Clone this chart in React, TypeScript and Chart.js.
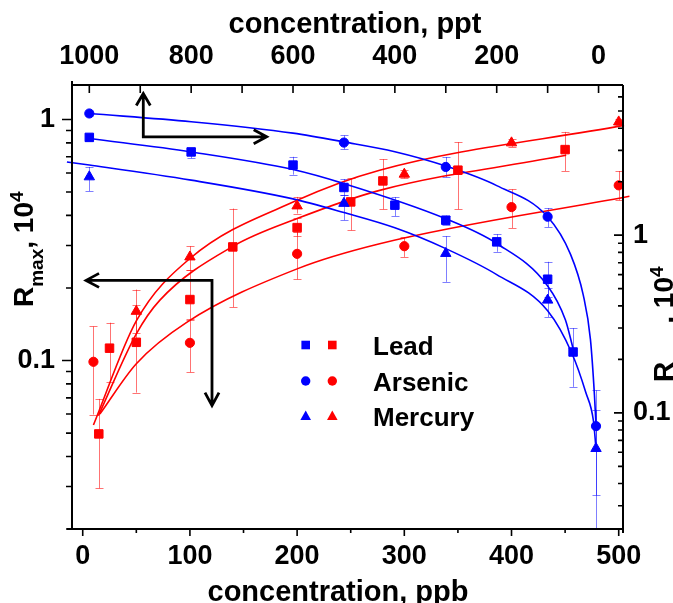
import React, { useEffect, useRef } from 'react';
import { Chart, registerables } from 'chart.js';

Chart.register(...registerables);

const BLUE = '#0000ff';
const RED = '#ff0000';
const RED_ERR = 'rgba(255,0,0,0.55)';
const BLUE_ERR = 'rgba(0,0,255,0.5)';
const FONT = "'Liberation Sans', Arial, sans-serif";

// ---- tick values ----
const ppbTicks = [0, 50, 100, 150, 200, 250, 300, 350, 400, 450, 500];
const ppbLabeled = [0, 100, 200, 300, 400, 500];
const pptTicks = [0, 100, 200, 300, 400, 500, 600, 700, 800, 900, 1000];
const pptLabeled = [0, 200, 400, 600, 800, 1000];
const leftTicks = [0.02, 0.03, 0.04, 0.05, 0.06, 0.07, 0.08, 0.09, 0.1, 0.2, 0.3, 0.4, 0.5, 0.6, 0.7, 0.8, 0.9, 1];
const rightTicks = [0.03, 0.04, 0.05, 0.06, 0.07, 0.08, 0.09, 0.1, 0.2, 0.3, 0.4, 0.5, 0.6, 0.7, 0.8, 0.9, 1, 2, 3, 4, 5, 6];
const logLabeled = [0.1, 1];

// ---- red series: concentration in ppb, left axis ----
const leadPpb = [15, 25, 50, 100, 140, 200, 250, 280, 350, 450];
const leadR = [0.0496, 0.1125, 0.119, 0.179, 0.296, 0.356, 0.455, 0.556, 0.616, 0.75];
const leadRLo = [0.0295, 0.0818, 0.0736, 0.1466, 0.1665, 0.33, 0.347, 0.424, 0.424, 0.611];
const leadRHi = [0.0693, 0.1435, 0.17, 0.237, 0.427, 0.39, 0.57, 0.684, 0.805, 0.888];

const arsenicPpb = [10, 100, 200, 300, 400, 500];
const arsenicR = [0.0988, 0.1184, 0.277, 0.298, 0.433, 0.533];
const arsenicRLo = [0.0597, 0.0894, 0.217, 0.269, 0.3546, 0.462];
const arsenicRHi = [0.1384, 0.148, 0.341, 0.325, 0.513, 0.611];

const mercuryPpb = [50, 100, 200, 300, 400, 500];
const mercuryR = [0.16, 0.269, 0.438, 0.593, 0.8, 0.977];
const mercuryRLo = [0.13, 0.237, 0.407, 0.57, 0.77, 0.95];
const mercuryRHi = [0.197, 0.298, 0.477, 0.62, 0.83, 1.0];

// red fit curves (ppb)
const leadFitPpb = [14.6, 50, 72, 140, 200, 277, 451];
const leadFitR = [0.059, 0.129, 0.178, 0.2975, 0.388, 0.508, 0.71];
const arsenicFitPpb = [16, 50, 97, 200, 277, 510];
const arsenicFitR = [0.06, 0.097, 0.144, 0.24, 0.305, 0.48];
const mercuryFitPpb = [10, 50, 100, 200, 277, 505];
const mercuryFitR = [0.054, 0.146, 0.265, 0.462, 0.616, 0.945];

// ---- blue series: concentration in ppt, right axis ----
const leadPpt = [1000, 800, 600, 500, 400, 300, 200, 100, 50];
const leadB = [3.55, 2.94, 2.48, 1.855, 1.475, 1.214, 0.917, 0.565, 0.22];
const leadBLo = [3.4, 2.71, 2.19, 1.68, 1.28, 1.14, 0.806, 0.45, 0.14];
const leadBHi = [3.7, 3.09, 2.76, 2.07, 1.64, 1.29, 1.013, 0.708, 0.3];

const arsenicPpt = [1000, 500, 300, 100, 5];
const arsenicB = [4.84, 3.32, 2.42, 1.27, 0.0842];
const arsenicBLo = [4.7, 3.04, 2.12, 1.11, 0.0344];
const arsenicBHi = [4.95, 3.64, 2.75, 1.42, 0.134];

const mercuryPpt = [1000, 500, 300, 100, 5];
const mercuryB = [2.13, 1.51, 0.789, 0.431, 0.063];
const mercuryBLo = [1.77, 1.215, 0.546, 0.346, 0.015];
const mercuryBHi = [2.42, 1.68, 0.987, 0.503, 0.104];

// blue fit curves (ppt)
const leadFitPpt = [1000, 800, 600, 500, 301, 200, 101, 65, 50];
const leadFitB = [3.5, 2.94, 2.34, 1.95, 1.24, 0.898, 0.523, 0.333, 0.23];
const arsenicFitPpt = [1000, 800, 600, 500, 400, 300, 200, 100, 55, 30, 16, 8, 5];
const arsenicFitB = [4.84, 4.35, 3.75, 3.35, 2.95, 2.45, 1.9, 1.27, 0.78, 0.46, 0.26, 0.125, 0.085];
const mercuryFitPpt = [1044, 1000, 800, 600, 500, 400, 300, 200, 100, 52, 25, 10, 5];
const mercuryFitB = [2.58, 2.48, 2.04, 1.6, 1.34, 1.1, 0.84, 0.6, 0.375, 0.215, 0.13, 0.09, 0.063];

// ---- annotation arrows (in ppb / left-axis units) ----
const arrowTopRight = { cx: 56.5, cy: 0.847, upTo: 1.282, rightTo: 171.6 };
const arrowLeftDown = { cx: 120.6, cy: 0.215, leftTo: 3.1, downTo: 0.065 };

const legendNames = ['Lead', 'Arsenic', 'Mercury'];
const legendStyles = ['rect', 'circle', 'triangle'];

const zip = (xs: number[], ys: number[]) => xs.map((x, i) => ({ x, y: ys[i] }));

function pointSet(label: string, xs: number[], ys: number[], lo: number[], hi: number[], color: string, errColor: string, style: string, blue: boolean) {
  const radius = style === 'rect' ? 6 : style === 'circle' ? 4.6 : 6;
  return {
    label,
    data: zip(xs, ys),
    xAxisID: blue ? 'x2' : 'x',
    yAxisID: blue ? 'y2' : 'y',
    pointStyle: style,
    pointRadius: radius,
    pointBackgroundColor: color,
    pointBorderColor: color,
    pointBorderWidth: 1,
    showLine: false,
    errLo: lo,
    errHi: hi,
    errColor,
    order: 0,
  };
}

function fitSet(label: string, xs: number[], ys: number[], color: string, blue: boolean) {
  return {
    label,
    data: zip(xs, ys),
    xAxisID: blue ? 'x2' : 'x',
    yAxisID: blue ? 'y2' : 'y',
    showLine: true,
    pointRadius: 0,
    borderColor: color,
    borderWidth: 1.6,
    cubicInterpolationMode: 'monotone',
    fill: false,
    clip: { left: 8, right: 8, top: 0, bottom: 0 },
    order: 1,
  };
}

function drawMarker(ctx: CanvasRenderingContext2D, style: string, x: number, y: number, color: string) {
  ctx.fillStyle = color;
  ctx.beginPath();
  if (style === 'rect') {
    ctx.rect(x - 4.3, y - 4.3, 8.6, 8.6);
  } else if (style === 'circle') {
    ctx.arc(x, y, 4.7, 0, Math.PI * 2);
  } else {
    ctx.moveTo(x, y - 5.5);
    ctx.lineTo(x + 5.3, y + 4);
    ctx.lineTo(x - 5.3, y + 4);
    ctx.closePath();
  }
  ctx.fill();
}

const errorBarPlugin = {
  id: 'errorBars',
  beforeDatasetsDraw(chart: any) {
    const { ctx, chartArea: a } = chart;
    ctx.save();
    ctx.beginPath();
    ctx.rect(a.left, a.top, a.right - a.left, a.bottom - a.top);
    ctx.clip();
    chart.data.datasets.forEach((ds: any, i: number) => {
      if (!ds.errLo) return;
      const meta = chart.getDatasetMeta(i);
      const xs = chart.scales[meta.xAxisID];
      const ys = chart.scales[meta.yAxisID];
      ctx.strokeStyle = ds.errColor;
      ctx.lineWidth = 1;
      ds.data.forEach((p: any, j: number) => {
        const px = Math.round(xs.getPixelForValue(p.x)) + 0.5;
        const y1 = ys.getPixelForValue(ds.errLo[j]);
        const y2 = ys.getPixelForValue(ds.errHi[j]);
        ctx.beginPath();
        ctx.moveTo(px, y1);
        ctx.lineTo(px, y2);
        ctx.moveTo(px - 4, Math.round(y1) + 0.5);
        ctx.lineTo(px + 4, Math.round(y1) + 0.5);
        ctx.moveTo(px - 4, Math.round(y2) + 0.5);
        ctx.lineTo(px + 4, Math.round(y2) + 0.5);
        ctx.stroke();
      });
    });
    ctx.restore();
  },
};

function drawRotatedTitle(ctx: CanvasRenderingContext2D, x: number, y: number) {
  ctx.save();
  ctx.translate(x, y);
  ctx.rotate(-Math.PI / 2);
  ctx.fillStyle = '#000';
  ctx.textAlign = 'left';
  ctx.textBaseline = 'alphabetic';
  const big = `bold 28px ${FONT}`;
  const small = `bold 19px ${FONT}`;
  let cx = 0;
  const seg = (t: string, font: string, dy: number) => {
    ctx.font = font;
    ctx.fillText(t, cx, dy);
    cx += ctx.measureText(t).width;
  };
  seg('R', big, 0);
  seg('max', small, 10);
  seg(', 10', big, 0);
  seg('4', small, -10);
  ctx.restore();
}

const decoPlugin = {
  id: 'deco',
  afterDraw(chart: any) {
    const { ctx, chartArea: a, scales } = chart;
    ctx.save();
    ctx.strokeStyle = '#000';
    // frame
    ctx.lineWidth = 2;
    ctx.beginPath();
    ctx.moveTo(a.left - 5, a.bottom);
    ctx.lineTo(a.right, a.bottom);
    ctx.moveTo(a.left, a.bottom);
    ctx.lineTo(a.left, a.top - 4);
    ctx.moveTo(a.left, a.top);
    ctx.lineTo(a.right, a.top);
    ctx.moveTo(a.right, a.top);
    ctx.lineTo(a.right, a.bottom + 4);
    ctx.stroke();
    // ticks
    ctx.lineWidth = 1.6;
    ctx.beginPath();
    scales.x.ticks.forEach((t: any) => {
      const px = scales.x.getPixelForValue(t.value);
      const len = ppbLabeled.includes(t.value) ? 7 : 4;
      ctx.moveTo(px, a.bottom);
      ctx.lineTo(px, a.bottom + len);
    });
    scales.x2.ticks.forEach((t: any) => {
      const px = scales.x2.getPixelForValue(t.value);
      ctx.moveTo(px, a.top);
      ctx.lineTo(px, a.top + 8);
    });
    scales.y.ticks.forEach((t: any) => {
      const py = scales.y.getPixelForValue(t.value);
      const len = logLabeled.includes(t.value) ? 10 : 6;
      ctx.moveTo(a.left - len, py);
      ctx.lineTo(a.left, py);
    });
    scales.y2.ticks.forEach((t: any) => {
      const py = scales.y2.getPixelForValue(t.value);
      const len = logLabeled.includes(t.value) ? 9 : 5;
      ctx.moveTo(a.right, py);
      ctx.lineTo(a.right - len, py);
    });
    ctx.stroke();

    // arrows
    const xs = scales.x;
    const ys = scales.y;
    ctx.lineWidth = 2.8;
    ctx.lineJoin = 'miter';
    ctx.lineCap = 'butt';
    const c1x = xs.getPixelForValue(arrowTopRight.cx);
    const c1y = ys.getPixelForValue(arrowTopRight.cy);
    const upY = ys.getPixelForValue(arrowTopRight.upTo);
    const rX = xs.getPixelForValue(arrowTopRight.rightTo);
    ctx.beginPath();
    ctx.moveTo(c1x, upY);
    ctx.lineTo(c1x, c1y);
    ctx.lineTo(rX, c1y);
    ctx.moveTo(c1x - 7, upY + 12);
    ctx.lineTo(c1x, upY);
    ctx.lineTo(c1x + 7, upY + 12);
    ctx.moveTo(rX - 13, c1y - 7);
    ctx.lineTo(rX, c1y);
    ctx.lineTo(rX - 13, c1y + 7);
    ctx.stroke();
    const c2x = xs.getPixelForValue(arrowLeftDown.cx);
    const c2y = ys.getPixelForValue(arrowLeftDown.cy);
    const lX = xs.getPixelForValue(arrowLeftDown.leftTo);
    const dY = ys.getPixelForValue(arrowLeftDown.downTo);
    ctx.beginPath();
    ctx.moveTo(lX, c2y);
    ctx.lineTo(c2x, c2y);
    ctx.lineTo(c2x, dY);
    ctx.moveTo(lX + 13, c2y - 7);
    ctx.lineTo(lX, c2y);
    ctx.lineTo(lX + 13, c2y + 7);
    ctx.moveTo(c2x - 7, dY - 13);
    ctx.lineTo(c2x, dY);
    ctx.lineTo(c2x + 7, dY - 13);
    ctx.stroke();

    // legend
    const rows = [345, 381, 416];
    legendNames.forEach((name, i) => {
      drawMarker(ctx, legendStyles[i], 305.7, rows[i], BLUE);
      drawMarker(ctx, legendStyles[i], 332.3, rows[i], RED);
      ctx.fillStyle = '#000';
      ctx.font = `bold 26px ${FONT}`;
      ctx.textAlign = 'left';
      ctx.textBaseline = 'alphabetic';
      ctx.fillText(name, 373, rows[i] + 10);
    });

    // axis titles
    ctx.fillStyle = '#000';
    ctx.font = `bold 29px ${FONT}`;
    ctx.textAlign = 'center';
    ctx.textBaseline = 'alphabetic';
    ctx.fillText('concentration, ppt', 355, 33);
    ctx.fillText('concentration, ppb', 338, 601);
    drawRotatedTitle(ctx, 33, 307);
    drawRotatedTitle(ctx, 673, 382);
    ctx.restore();
  },
};

const tickFont = { family: FONT, size: 27, weight: 'bold' as const };

export default function App() {
  const ref = useRef<HTMLCanvasElement>(null);
  useEffect(() => {
    const datasets: any[] = [
      pointSet('Lead (ppt)', leadPpt, leadB, leadBLo, leadBHi, BLUE, BLUE_ERR, 'rect', true),
      pointSet('Arsenic (ppt)', arsenicPpt, arsenicB, arsenicBLo, arsenicBHi, BLUE, BLUE_ERR, 'circle', true),
      pointSet('Mercury (ppt)', mercuryPpt, mercuryB, mercuryBLo, mercuryBHi, BLUE, BLUE_ERR, 'triangle', true),
      pointSet('Lead (ppb)', leadPpb, leadR, leadRLo, leadRHi, RED, RED_ERR, 'rect', false),
      pointSet('Arsenic (ppb)', arsenicPpb, arsenicR, arsenicRLo, arsenicRHi, RED, RED_ERR, 'circle', false),
      pointSet('Mercury (ppb)', mercuryPpb, mercuryR, mercuryRLo, mercuryRHi, RED, RED_ERR, 'triangle', false),
      fitSet('Lead fit (ppt)', leadFitPpt, leadFitB, BLUE, true),
      fitSet('Arsenic fit (ppt)', arsenicFitPpt, arsenicFitB, BLUE, true),
      fitSet('Mercury fit (ppt)', mercuryFitPpt, mercuryFitB, BLUE, true),
      fitSet('Lead fit (ppb)', leadFitPpb, leadFitR, RED, false),
      fitSet('Arsenic fit (ppb)', arsenicFitPpb, arsenicFitR, RED, false),
      fitSet('Mercury fit (ppb)', mercuryFitPpb, mercuryFitR, RED, false),
    ];
    const hidden = { display: false, drawTicks: false };
    const chart = new Chart(ref.current as HTMLCanvasElement, {
      type: 'scatter',
      data: { datasets },
      options: {
        animation: false,
        responsive: false,
        devicePixelRatio: 1,
        layout: { padding: 0 },
        plugins: { legend: { display: false }, tooltip: { enabled: false }, title: { display: false } },
        events: [],
        scales: {
          x: {
            type: 'linear', position: 'bottom', min: -10, max: 504,
            grid: hidden, border: { display: false },
            afterBuildTicks: (s: any) => { s.ticks = ppbTicks.map((v) => ({ value: v })); },
            afterFit: (s: any) => { s.height = 74; },
            ticks: { autoSkip: false, maxRotation: 0, padding: 11, color: '#000', font: tickFont,
              callback: (v: any) => (ppbLabeled.includes(Number(v)) ? String(v) : '') },
          },
          x2: {
            type: 'linear', position: 'top', min: -48, max: 1034, reverse: true,
            grid: hidden, border: { display: false },
            afterBuildTicks: (s: any) => { s.ticks = pptTicks.map((v) => ({ value: v })); },
            afterFit: (s: any) => { s.height = 85; },
            ticks: { autoSkip: false, maxRotation: 0, padding: 12, color: '#000', font: tickFont,
              callback: (v: any) => (pptLabeled.includes(Number(v)) ? String(v) : '') },
          },
          y: {
            type: 'logarithmic', position: 'left', min: 0.02, max: 1.39,
            grid: hidden, border: { display: false },
            afterBuildTicks: (s: any) => { s.ticks = leftTicks.map((v) => ({ value: v })); },
            afterFit: (s: any) => { s.width = 72; },
            ticks: { autoSkip: false, padding: 17, color: '#000', font: tickFont,
              callback: (v: any) => (logLabeled.includes(Number(v)) ? String(v) : '') },
          },
          y2: {
            type: 'logarithmic', position: 'right', min: 0.0222, max: 7.0,
            grid: hidden, border: { display: false },
            afterBuildTicks: (s: any) => { s.ticks = rightTicks.map((v) => ({ value: v })); },
            afterFit: (s: any) => { s.width = 50; },
            ticks: { autoSkip: false, padding: 10, color: '#000', font: tickFont,
              callback: (v: any) => (logLabeled.includes(Number(v)) ? String(v) : '') },
          },
        },
      } as any,
      plugins: [errorBarPlugin, decoPlugin],
    });
    return () => chart.destroy();
  }, []);
  return (
    <div style={{ position: 'fixed', left: 0, top: 0, width: 673, height: 603, background: '#fff' }}>
      <canvas ref={ref} width={673} height={603} style={{ display: 'block' }} />
    </div>
  );
}
